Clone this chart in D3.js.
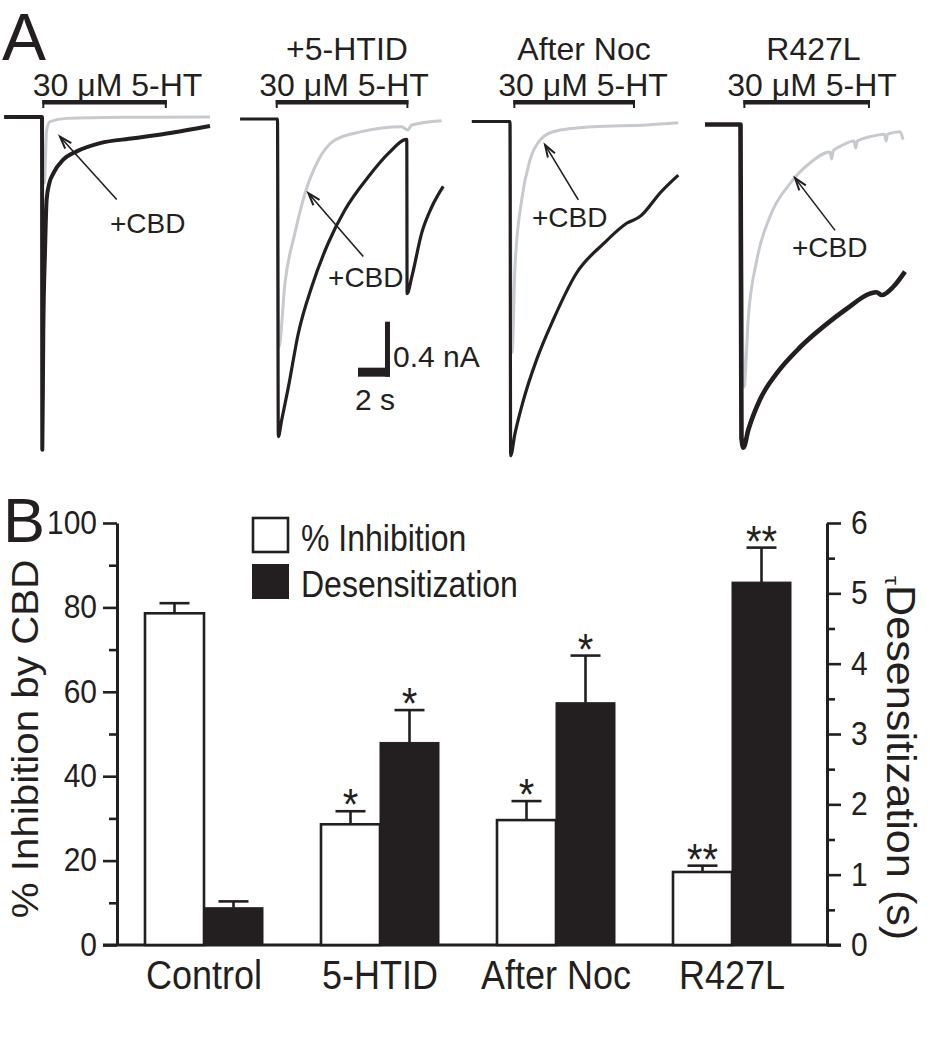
<!DOCTYPE html>
<html><head><meta charset="utf-8">
<script src="https://cdn.jsdelivr.net/npm/d3@7"></script>
<style>
body{margin:0;background:#fff}
svg{display:block}
text{font-family:'Liberation Sans',Arial,Helvetica,sans-serif;fill:#231f20}
</style>
</head><body>
<svg id="c" width="930" height="1050"></svg>
<script>
// ================= DATA =================
// Panel A: traces, time (s) from 5-HT onset, current (nA)
const panelTitles = ["", "+5-HTID", "After Noc", "R427L"];
const drugLabel = "30 \u03BCM 5-HT";
const cbdLabel = "+CBD";
const drugOn  = [0.02, -0.11, 0.21, 0.18];
const drugOff = [7.80, 8.18, 7.81, 8.09];

const ctrlBlack = [[-2.37,0],[0,0],[0.02,-2.42],[0.08,-1.57],[0.19,-0.97],[0.29,-0.60],[0.46,-0.48],[0.71,-0.41],[1.33,-0.31],[2.17,-0.25],[3.63,-0.19],[5.71,-0.155],[7.79,-0.12],[10.5,-0.065]];
const ctrlGray  = [[0,0],[0.15,-0.48],[0.29,-0.095],[0.5,-0.034],[1.54,-0.01],[5.0,-0.002],[10.5,0.0]];
const htidBlack = [[-2.34,0],[0,0],[0.05,-2.31],[0.26,-2.19],[0.68,-1.95],[1.30,-1.56],[2.14,-1.22],[3.18,-0.90],[4.22,-0.66],[5.68,-0.42],[6.93,-0.25],[8.08,-0.148],[8.10,-1.27],[8.39,-1.15],[9.01,-0.83],[9.64,-0.64],[10.36,-0.49]];
const htidGray  = [[0,0],[0.09,-1.66],[0.47,-1.19],[1.09,-0.83],[1.72,-0.54],[2.55,-0.30],[3.59,-0.153],[5.26,-0.092],[7.76,-0.056],[8.14,-0.08],[8.39,-0.044],[10.26,-0.012]];
const nocBlack  = [[-2.39,0],[0,0],[0.04,-2.43],[0.31,-2.27],[0.83,-2.03],[1.67,-1.73],[2.71,-1.44],[4.17,-1.10],[5.83,-0.89],[7.29,-0.74],[8.19,-0.685],[8.44,-0.655],[9.38,-0.52],[10.52,-0.39]];
const nocGray   = [[0,0],[0.13,-1.68],[0.31,-1.06],[0.73,-0.57],[1.25,-0.28],[1.88,-0.135],[2.71,-0.074],[5.21,-0.038],[8.54,-0.025],[10.52,-0.009]];
const r427Black = [[-2.22,0],[0,0],[0.06,-2.28],[0.18,-2.35],[0.49,-2.22],[1.22,-2.00],[2.26,-1.81],[3.72,-1.62],[5.18,-1.47],[6.64,-1.34],[8.09,-1.23],[8.5,-1.22],[8.83,-1.24],[9.55,-1.18],[10.28,-1.07]];
const r427Gray  = [[0,0],[0.22,-1.91],[0.49,-1.40],[1.01,-0.99],[1.84,-0.67],[3.09,-0.43],[4.34,-0.28],[5.6,-0.2],[5.7,-0.25],[5.8,-0.19],[6.22,-0.16],[7.1,-0.12],[7.2,-0.17],[7.3,-0.12],[8.09,-0.089],[9.0,-0.07],[9.1,-0.12],[9.2,-0.07],[9.97,-0.052],[10.16,-0.11]];

const arrowTail = [[4.67,-0.60],[5.36,-1.00],[4.27,-0.57],[5.91,-0.77]];
const arrowTip  = [[1.125,-0.143],[1.93,-0.54],[2.19,-0.17],[3.41,-0.39]];
const cbdLabelAt = [[4.25,-0.84],[3.16,-1.22],[1.375,-0.77],[3.22,-0.96]];
const scaleBarT = 2, scaleBarI = 0.4;
const scaleBarLabels = ["0.4 nA", "2 s"];

// Panel B
const categories = ["Control", "5-HTID", "After Noc", "R427L"];
const inhibition    = [78.6, 28.6, 29.6, 17.3];
const inhibitionSEM = [2.4, 3.1, 4.5, 1.5];
const tauDes        = [0.53, 2.88, 3.445, 5.16];
const tauDesSEM     = [0.09, 0.46, 0.67, 0.49];
const inhibitionSig = ["", "*", "*", "**"];
const tauSig        = ["", "*", "*", "**"];
const leftMajor  = [0, 20, 40, 60, 80, 100];
const leftMinor  = [10, 30, 50, 70, 90];
const rightMajor = [0, 1, 2, 3, 4, 5, 6];
const rightMinor = [0.5, 1.5, 2.5, 3.5, 4.5, 5.5];
const legendLabels = ["% Inhibition", "Desensitization"];
const leftTitle = "% Inhibition by CBD";
const rightTitle = "Desensitization (s)";

// ================= DRAW =================
const INK = "#231f20", GRAY = "#c6c9cd";
const svg = d3.select("#c");

// ---------- Panel A ----------
const onsetX = [42, 277.5, 510, 740.5];
const baseY  = [117, 119, 121.5, 124.5];
const pxPerS = 16, pxPerNA = 137.5;
const blackTraces = [ctrlBlack, htidBlack, nocBlack, r427Black];
const grayTraces  = [ctrlGray, htidGray, nocGray, r427Gray];
const blackW = [4, 3.2, 3.2, 4.6];
const drugLabelX = [117.5, 344, 583, 812];
const titleX = [0, 347, 584, 813.5];

svg.append("text").attr("x", 2).attr("y", 60).attr("font-size", 66).text("A");

for (let p = 0; p < 4; p++) {
  const x = d3.scaleLinear().domain([0, 1]).range([onsetX[p], onsetX[p] + pxPerS]);
  const y = d3.scaleLinear().domain([0, -1]).range([baseY[p], baseY[p] + pxPerNA]);
  const line = d3.line().x(d => x(d[0])).y(d => y(d[1])).curve(d3.curveMonotoneX);
  const g = svg.append("g");

  g.append("path").datum(grayTraces[p]).attr("d", line)
    .attr("fill", "none").attr("stroke", GRAY).attr("stroke-width", 3).attr("stroke-linejoin", "round");
  g.append("path").datum(blackTraces[p]).attr("d", line)
    .attr("fill", "none").attr("stroke", INK).attr("stroke-width", blackW[p]).attr("stroke-linejoin", "round");

  // drug application bar
  const x1 = x(drugOn[p]), x2 = x(drugOff[p]);
  g.append("rect").attr("x", x1).attr("y", 100).attr("width", x2 - x1).attr("height", 4.5).attr("fill", INK);
  g.append("line").attr("x1", x1 + 1).attr("x2", x1 + 1).attr("y1", 100).attr("y2", 108).attr("stroke", INK).attr("stroke-width", 2);
  g.append("line").attr("x1", x2 - 1).attr("x2", x2 - 1).attr("y1", 100).attr("y2", 108).attr("stroke", INK).attr("stroke-width", 2);
  g.append("text").attr("x", drugLabelX[p]).attr("y", 96).attr("text-anchor", "middle").attr("font-size", 32).text(drugLabel);
  if (panelTitles[p]) g.append("text").attr("x", titleX[p]).attr("y", 60).attr("text-anchor", "middle").attr("font-size", 32).text(panelTitles[p]);

  // arrow + label
  const tx = x(arrowTail[p][0]), ty = y(arrowTail[p][1]);
  const hx = x(arrowTip[p][0]), hy = y(arrowTip[p][1]);
  g.append("line").attr("x1", tx).attr("y1", ty).attr("x2", hx).attr("y2", hy).attr("stroke", INK).attr("stroke-width", 1.6);
  const ang = Math.atan2(ty - hy, tx - hx), L = 13, sp = 0.32;
  g.append("path").attr("d", `M${hx + L*Math.cos(ang+sp)},${hy + L*Math.sin(ang+sp)}L${hx},${hy}L${hx + L*Math.cos(ang-sp)},${hy + L*Math.sin(ang-sp)}`)
    .attr("fill", "none").attr("stroke", INK).attr("stroke-width", 2);
  g.append("text").attr("x", x(cbdLabelAt[p][0])).attr("y", y(cbdLabelAt[p][1])).attr("font-size", 28).text(cbdLabel);

  if (p === 1) {
    // scale bar
    const cx = x(7.03), cy = y(-1.874);
    g.append("rect").attr("x", x(7.03 - scaleBarT)).attr("y", cy - 9).attr("width", cx - x(7.03 - scaleBarT)).attr("height", 9).attr("fill", INK);
    g.append("rect").attr("x", cx - 5).attr("y", y(-1.874 + scaleBarI)).attr("width", 5).attr("height", cy - y(-1.874 + scaleBarI)).attr("fill", INK);
    g.append("text").attr("x", cx + 3).attr("y", cy - 10).attr("font-size", 30).text(scaleBarLabels[0]);
    g.append("text").attr("x", cx - 15).attr("y", cy + 33).attr("text-anchor", "middle").attr("font-size", 30).text(scaleBarLabels[1]);
  }
}

// ---------- Panel B ----------
const axL = 117, axR = 827, y0 = 945, y1 = 523;
const yL = d3.scaleLinear().domain([0, 100]).range([y0, y1]);
const yR = d3.scaleLinear().domain([0, 6]).range([y0, y1]);
const xB = d3.scaleBand().domain(categories).range([116, 820]);
const barW = 59;

// stretched text helper (panel B text is slightly tall in the reference)
function stext(sel, x, y, str, size, anchor, sy) {
  return sel.append("text").attr("transform", `translate(${x},${y}) scale(1,${sy})`)
    .attr("text-anchor", anchor).attr("font-size", size).text(str);
}

svg.append("text").attr("x", 3).attr("y", 542).attr("font-size", 63).text("B");

function styleAxis(g) {
  g.selectAll("path.domain").attr("stroke", INK).attr("stroke-width", 3);
  g.selectAll(".tick line").attr("stroke", INK).attr("stroke-width", 2.6);
  g.selectAll(".tick text").attr("font-size", 30).attr("fill", INK)
    .attr("font-family", "'Liberation Sans',Arial,Helvetica,sans-serif")
    .attr("transform", "scale(1,1.08)");
}
const gl = svg.append("g").attr("transform", `translate(${axL},0)`)
  .call(d3.axisLeft(yL).tickValues(leftMajor).tickSize(14).tickSizeOuter(0).tickPadding(6).tickFormat(d3.format("d")));
styleAxis(gl);
const glm = svg.append("g").attr("transform", `translate(${axL},0)`)
  .call(d3.axisLeft(yL).tickValues(leftMinor).tickSize(8).tickFormat(""));
styleAxis(glm); glm.select("path.domain").remove();
const gr = svg.append("g").attr("transform", `translate(${axR},0)`)
  .call(d3.axisRight(yR).tickValues(rightMajor).tickSize(14).tickSizeOuter(0).tickPadding(10).tickFormat(d3.format("d")));
styleAxis(gr);
const grm = svg.append("g").attr("transform", `translate(${axR},0)`)
  .call(d3.axisRight(yR).tickValues(rightMinor).tickSize(8).tickFormat(""));
styleAxis(grm); grm.select("path.domain").remove();

// baseline
svg.append("line").attr("x1", axL - 14).attr("x2", axR + 14).attr("y1", y0).attr("y2", y0)
  .attr("stroke", INK).attr("stroke-width", 3);

// bars
const gb = svg.append("g");
categories.forEach((c, i) => {
  const cx = xB(c) + xB.bandwidth() / 2;
  // inhibition (white)
  const wTop = yL(inhibition[i]), wErr = yL(inhibition[i] + inhibitionSEM[i]);
  gb.append("line").attr("x1", cx - barW/2).attr("x2", cx - barW/2).attr("y1", wTop).attr("y2", wErr).attr("stroke", INK).attr("stroke-width", 2.6);
  gb.append("line").attr("x1", cx - barW/2 - 15).attr("x2", cx - barW/2 + 15).attr("y1", wErr).attr("y2", wErr).attr("stroke", INK).attr("stroke-width", 2.6);
  gb.append("rect").attr("x", cx - barW).attr("y", wTop).attr("width", barW).attr("height", y0 - wTop)
    .attr("fill", "#fff").attr("stroke", INK).attr("stroke-width", 2.6);
  if (inhibitionSig[i]) stext(gb, cx - barW/2, wErr + 9, inhibitionSig[i], 40, "middle", 1.1);
  // tau (black)
  const bTop = yR(tauDes[i]), bErr = yR(tauDes[i] + tauDesSEM[i]);
  gb.append("line").attr("x1", cx + barW/2).attr("x2", cx + barW/2).attr("y1", bTop).attr("y2", bErr).attr("stroke", INK).attr("stroke-width", 2.6);
  gb.append("line").attr("x1", cx + barW/2 - 15).attr("x2", cx + barW/2 + 15).attr("y1", bErr).attr("y2", bErr).attr("stroke", INK).attr("stroke-width", 2.6);
  gb.append("rect").attr("x", cx).attr("y", bTop).attr("width", barW).attr("height", y0 - bTop)
    .attr("fill", INK).attr("stroke", INK).attr("stroke-width", 1);
  if (tauSig[i]) stext(gb, cx + barW/2, bErr + 9, tauSig[i], 40, "middle", 1.1);
  // category label
  stext(svg, cx, 989, c, 36, "middle", 1.14);
});

// legend
svg.append("rect").attr("x", 253).attr("y", 518).attr("width", 35).attr("height", 34)
  .attr("fill", "#fff").attr("stroke", INK).attr("stroke-width", 2.6);
svg.append("rect").attr("x", 252).attr("y", 564).attr("width", 37).attr("height", 35).attr("fill", INK);
stext(svg, 301, 551, legendLabels[0], 32, "start", 1.14);
stext(svg, 301, 597, legendLabels[1], 32, "start", 1.14);

// axis titles
svg.append("text").attr("transform", "translate(38,739) scale(1,1.09) rotate(-90)").attr("text-anchor", "middle")
  .attr("font-size", 37).text(leftTitle);
const rt = svg.append("text").attr("transform", "translate(887,576) scale(1,1.08) rotate(90)").attr("font-size", 40);
rt.append("tspan").attr("font-size", 21).attr("dy", 2).text("\u03C4");
rt.append("tspan").attr("dy", -2).attr("dx", 0).text(rightTitle);
</script>
</body></html>
